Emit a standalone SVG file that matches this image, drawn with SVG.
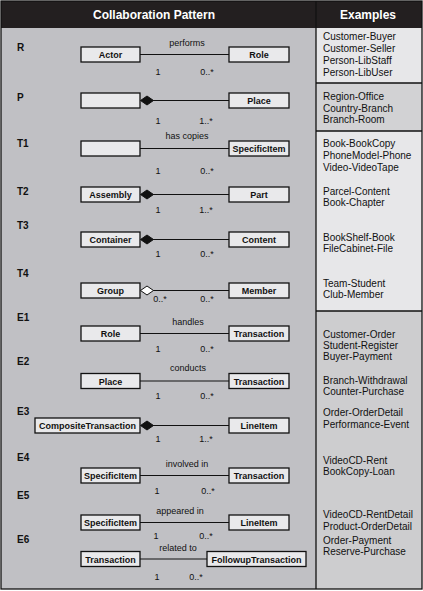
<svg xmlns="http://www.w3.org/2000/svg" width="423" height="591" viewBox="0 0 423 591">
  <style>
    .hdr { font-family: "Liberation Sans", Arial, sans-serif; font-weight: bold; font-size: 12px; fill: #ffffff; text-anchor: middle; }
    .tag { font-family: "Liberation Sans", Arial, sans-serif; font-weight: bold; font-size: 10px; fill: #111; }
    .box { fill: #e9e9eb; stroke: #111; stroke-width: 1.3; }
    .bt { font-family: "Liberation Sans", Arial, sans-serif; font-weight: bold; font-size: 9px; fill: #111; text-anchor: middle; }
    .lbl { font-family: "Liberation Sans", Arial, sans-serif; font-size: 9px; fill: #111; text-anchor: middle; }
    .mul { font-family: "Liberation Sans", Arial, sans-serif; font-size: 9px; fill: #111; text-anchor: middle; }
    .ex { font-family: "Liberation Sans", Arial, sans-serif; font-size: 10px; fill: #111; }
    .wire { stroke: #111; stroke-width: 1.2; fill: none; }
    .dia { fill: #111; stroke: #111; stroke-width: 1; }
    .odia { fill: #ffffff; stroke: #111; stroke-width: 1; }
  </style>

  <!-- table background -->
  <rect x="1" y="1" width="421" height="588" fill="#c0c0c4"/>
  <rect x="316" y="28" width="106" height="55" fill="#e7e7e9"/>
  <rect x="316" y="83" width="106" height="48" fill="#d2d2d4"/>
  <rect x="316" y="131" width="106" height="180" fill="#e7e7e9"/>
  <rect x="316" y="311" width="106" height="278" fill="#cdcdcf"/>
  <rect x="1" y="1" width="421" height="27" fill="#231f20"/>
  <text class="hdr" x="154" y="19">Collaboration Pattern</text>
  <text class="hdr" x="368" y="19">Examples</text>

  <!-- grid lines -->
  <g stroke="#111" stroke-width="1.3" fill="none">
    <rect x="1" y="1" width="421" height="588"/>
    <line x1="316" y1="1" x2="316" y2="589"/>
    <line x1="316" y1="83" x2="422" y2="83"/>
    <line x1="316" y1="131" x2="422" y2="131"/>
    <line x1="316" y1="311" x2="422" y2="311"/>
  </g>

  <!-- row tags -->
  <g id="tags">
    <text class="tag" x="17" y="51">R</text>
    <text class="tag" x="17" y="101">P</text>
    <text class="tag" x="17" y="147">T1</text>
    <text class="tag" x="17" y="195">T2</text>
    <text class="tag" x="17" y="229">T3</text>
    <text class="tag" x="17" y="277">T4</text>
    <text class="tag" x="17" y="321">E1</text>
    <text class="tag" x="17" y="365">E2</text>
    <text class="tag" x="17" y="415">E3</text>
    <text class="tag" x="17" y="461">E4</text>
    <text class="tag" x="17" y="499">E5</text>
    <text class="tag" x="17" y="543">E6</text>
  </g>

  <!-- connectors -->
  <g id="connectors">
    <line class="wire" x1="140" y1="54.5" x2="229" y2="54.5"/>
    <line class="wire" x1="153" y1="100.5" x2="229" y2="100.5"/>
    <line class="wire" x1="140" y1="148.5" x2="229" y2="148.5"/>
    <line class="wire" x1="153" y1="194.5" x2="229" y2="194.5"/>
    <line class="wire" x1="153" y1="239.5" x2="229" y2="239.5"/>
    <line class="wire" x1="153" y1="290.5" x2="229" y2="290.5"/>
    <line class="wire" x1="140" y1="333.5" x2="229" y2="333.5"/>
    <line class="wire" x1="140" y1="381" x2="229" y2="381"/>
    <line class="wire" x1="153" y1="425.5" x2="229" y2="425.5"/>
    <line class="wire" x1="140" y1="475.5" x2="229" y2="475.5"/>
    <line class="wire" x1="140" y1="522.5" x2="229" y2="522.5"/>
    <line class="wire" x1="140" y1="559" x2="207" y2="559"/>
    <!-- aggregation / composition ends -->
    <polygon class="dia" points="140.5,100.5 147,96 153.5,100.5 147,105"/>
    <polygon class="dia" points="140.5,194.5 147,190 153.5,194.5 147,199"/>
    <polygon class="dia" points="140.5,239.5 147,235 153.5,239.5 147,244"/>
    <polygon class="odia" points="140.5,290.5 147,286 153.5,290.5 147,295"/>
    <polygon class="dia" points="140.5,425.5 147,421 153.5,425.5 147,430"/>
    <!-- association names -->
    <text class="lbl" x="187" y="46">performs</text>
    <text class="lbl" x="187" y="139">has copies</text>
    <text class="lbl" x="188" y="325">handles</text>
    <text class="lbl" x="188" y="371">conducts</text>
    <text class="lbl" x="187" y="467">involved in</text>
    <text class="lbl" x="180" y="514">appeared in</text>
    <text class="lbl" x="178" y="551">related to</text>
    <!-- multiplicities -->
    <text class="mul" x="158" y="75">1</text><text class="mul" x="207" y="75">0..*</text>
    <text class="mul" x="158" y="124">1</text><text class="mul" x="206" y="124">1..*</text>
    <text class="mul" x="158" y="174">1</text><text class="mul" x="207" y="174">0..*</text>
    <text class="mul" x="158" y="213">1</text><text class="mul" x="206" y="213">1..*</text>
    <text class="mul" x="158" y="257">1</text><text class="mul" x="207" y="257">0..*</text>
    <text class="mul" x="160" y="302">0..*</text><text class="mul" x="207" y="302">0..*</text>
    <text class="mul" x="158" y="352">1</text><text class="mul" x="207" y="352">0..*</text>
    <text class="mul" x="158" y="399">1</text><text class="mul" x="207" y="399">0..*</text>
    <text class="mul" x="158" y="442">1</text><text class="mul" x="206" y="442">1..*</text>
    <text class="mul" x="157" y="494">1</text><text class="mul" x="208" y="494">0..*</text>
    <text class="mul" x="156" y="539">1</text><text class="mul" x="206" y="539">0..*</text>
    <text class="mul" x="157" y="580">1</text><text class="mul" x="196" y="580">0..*</text>
  </g>

  <!-- class boxes -->
  <g id="r-actor"><rect class="box" x="81" y="47" width="59" height="15"/><text class="bt" x="110.5" y="58">Actor</text></g>
  <g id="r-role"><rect class="box" x="229" y="47" width="60" height="15"/><text class="bt" x="259" y="58">Role</text></g>

  <g id="p-whole"><rect class="box" x="81" y="93" width="59" height="15"/></g>
  <g id="p-place"><rect class="box" x="229" y="93" width="60" height="15"/><text class="bt" x="259" y="104">Place</text></g>

  <g id="t1-type"><rect class="box" x="81" y="141" width="59" height="15"/></g>
  <g id="t1-item"><rect class="box" x="229" y="141" width="60" height="15"/><text class="bt" x="259" y="152">SpecificItem</text></g>

  <g id="t2-assembly"><rect class="box" x="81" y="187" width="59" height="15"/><text class="bt" x="110.5" y="198">Assembly</text></g>
  <g id="t2-part"><rect class="box" x="229" y="187" width="60" height="15"/><text class="bt" x="259" y="198">Part</text></g>

  <g id="t3-container"><rect class="box" x="81" y="232" width="59" height="15"/><text class="bt" x="110.5" y="243">Container</text></g>
  <g id="t3-content"><rect class="box" x="229" y="232" width="60" height="15"/><text class="bt" x="259" y="243">Content</text></g>

  <g id="t4-group"><rect class="box" x="81" y="283" width="59" height="15"/><text class="bt" x="110.5" y="294">Group</text></g>
  <g id="t4-member"><rect class="box" x="229" y="283" width="60" height="15"/><text class="bt" x="259" y="294">Member</text></g>

  <g id="e1-role"><rect class="box" x="81" y="326" width="59" height="15"/><text class="bt" x="110.5" y="337">Role</text></g>
  <g id="e1-transaction"><rect class="box" x="229" y="326" width="60" height="15"/><text class="bt" x="259" y="337">Transaction</text></g>

  <g id="e2-place"><rect class="box" x="81" y="373.5" width="59" height="15"/><text class="bt" x="110.5" y="384.5">Place</text></g>
  <g id="e2-transaction"><rect class="box" x="229" y="373.5" width="60" height="15"/><text class="bt" x="259" y="384.5">Transaction</text></g>

  <g id="e3-composite"><rect class="box" x="35" y="418" width="105" height="15"/><text class="bt" x="87.5" y="429">CompositeTransaction</text></g>
  <g id="e3-lineitem"><rect class="box" x="229" y="418" width="60" height="15"/><text class="bt" x="259" y="429">LineItem</text></g>

  <g id="e4-item"><rect class="box" x="81" y="468" width="59" height="15"/><text class="bt" x="110.5" y="479">SpecificItem</text></g>
  <g id="e4-transaction"><rect class="box" x="229" y="468" width="60" height="15"/><text class="bt" x="259" y="479">Transaction</text></g>

  <g id="e5-item"><rect class="box" x="81" y="515" width="59" height="15"/><text class="bt" x="110.5" y="526">SpecificItem</text></g>
  <g id="e5-lineitem"><rect class="box" x="229" y="515" width="60" height="15"/><text class="bt" x="259" y="526">LineItem</text></g>

  <g id="e6-transaction"><rect class="box" x="81" y="551.5" width="59" height="15"/><text class="bt" x="110.5" y="562.5">Transaction</text></g>
  <g id="e6-followup"><rect class="box" x="207" y="551.5" width="99" height="15"/><text class="bt" x="256.5" y="562.5">FollowupTransaction</text></g>

  <!-- example column -->
  <g id="examples">
    <text class="ex" x="323" y="40">Customer-Buyer</text>
    <text class="ex" x="323" y="52">Customer-Seller</text>
    <text class="ex" x="323" y="64">Person-LibStaff</text>
    <text class="ex" x="323" y="76">Person-LibUser</text>
    <text class="ex" x="323" y="100">Region-Office</text>
    <text class="ex" x="323" y="112">Country-Branch</text>
    <text class="ex" x="323" y="123">Branch-Room</text>
    <text class="ex" x="323" y="147">Book-BookCopy</text>
    <text class="ex" x="323" y="159">PhoneModel-Phone</text>
    <text class="ex" x="323" y="171">Video-VideoTape</text>
    <text class="ex" x="323" y="195">Parcel-Content</text>
    <text class="ex" x="323" y="206">Book-Chapter</text>
    <text class="ex" x="323" y="241">BookShelf-Book</text>
    <text class="ex" x="323" y="252">FileCabinet-File</text>
    <text class="ex" x="323" y="287">Team-Student</text>
    <text class="ex" x="323" y="298">Club-Member</text>
    <text class="ex" x="323" y="338">Customer-Order</text>
    <text class="ex" x="323" y="349">Student-Register</text>
    <text class="ex" x="323" y="360">Buyer-Payment</text>
    <text class="ex" x="323" y="384">Branch-Withdrawal</text>
    <text class="ex" x="323" y="395">Counter-Purchase</text>
    <text class="ex" x="323" y="416">Order-OrderDetail</text>
    <text class="ex" x="323" y="428">Performance-Event</text>
    <text class="ex" x="323" y="464">VideoCD-Rent</text>
    <text class="ex" x="323" y="475">BookCopy-Loan</text>
    <text class="ex" x="323" y="518">VideoCD-RentDetail</text>
    <text class="ex" x="323" y="530">Product-OrderDetail</text>
    <text class="ex" x="323" y="544">Order-Payment</text>
    <text class="ex" x="323" y="555">Reserve-Purchase</text>
  </g>
</svg>
